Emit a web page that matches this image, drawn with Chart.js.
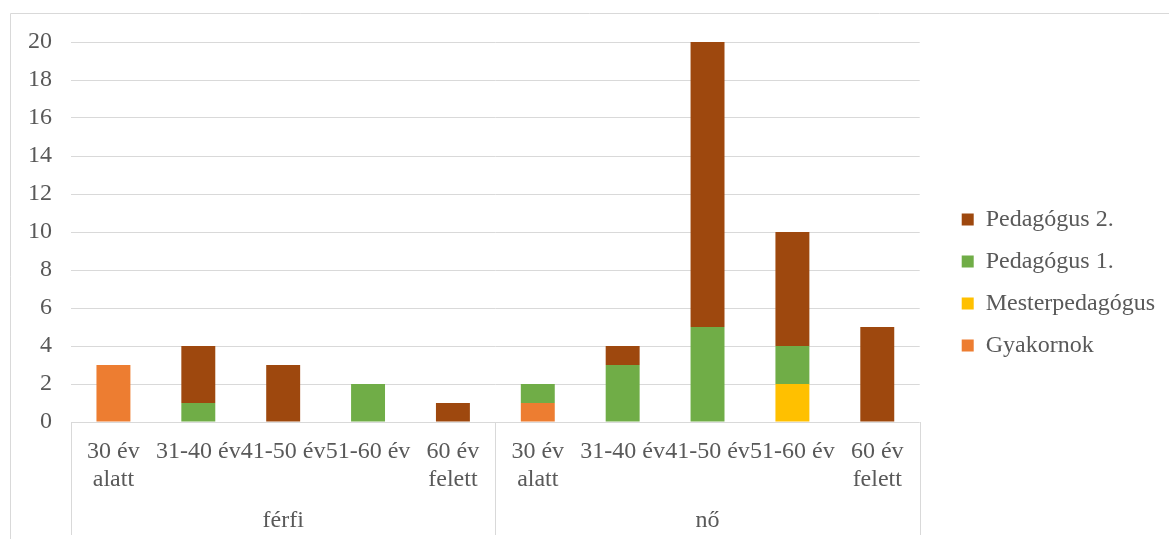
<!DOCTYPE html>
<html>
<head>
<meta charset="utf-8">
<script src="https://cdn.jsdelivr.net/npm/chart.js@4"></script>
<style>
    html, body { margin: 0; padding: 0; background: #fff; }
    #wrap { position: relative; width: 1169px; height: 539px; }
</style>
</head>
<body>
<div id="wrap"><canvas id="chart" width="1169" height="539"></canvas></div>
<script>
// --- Data ---
const ageLabels = [['30 év', 'alatt'], '31-40 év', '41-50 év', '51-60 év', ['60 év', 'felett'],
                   ['30 év', 'alatt'], '31-40 év', '41-50 év', '51-60 év', ['60 év', 'felett']];
const groupLabels = ['férfi', 'nő'];

const gyakornok = [3, 0, 0, 0, 0, 1, 0, 0, 0, 0];
const mesterpedagogus = [0, 0, 0, 0, 0, 0, 0, 0, 2, 0];
const pedagogus1 = [0, 1, 0, 2, 0, 1, 3, 5, 2, 0];
const pedagogus2 = [0, 3, 3, 0, 1, 0, 1, 15, 6, 5];

const yTicks = [0, 2, 4, 6, 8, 10, 12, 14, 16, 18, 20];

const GRID = '#d9d9d9';
const TEXT = '#595959';
const FONT = 'Liberation Serif';

Chart.defaults.font.family = FONT;
Chart.defaults.font.size = 24;
Chart.defaults.color = TEXT;

const font24 = { family: FONT, size: 24, lineHeight: 1.2 };

// outer frame + group separator lines below the axis
const framePlugin = {
    id: 'frame',
    afterLayout(chart) {
        // push the legend a bit away from the plot and up
        const lg = chart.legend;
        if (lg) {
            lg.left += 24; lg.right += 24;
            lg.top -= 8; lg.bottom -= 8;
        }
    },
    afterDraw(chart) {
        const ctx = chart.ctx;
        const x = chart.scales.x;
        const area = chart.chartArea;
        ctx.save();
        ctx.strokeStyle = GRID;
        ctx.lineWidth = 1;
        ctx.beginPath();
        ctx.moveTo(10.5, 600);
        ctx.lineTo(10.5, 13.5);
        ctx.lineTo(1169, 13.5);
        ctx.stroke();

        const mid = (x.getPixelForValue(4) + x.getPixelForValue(5)) / 2;
        [area.left, mid, area.right].forEach(px => {
            const p = Math.round(px) + 0.5;
            ctx.beginPath();
            ctx.moveTo(p, area.bottom);
            ctx.lineTo(p, 535);
            ctx.stroke();
        });
        ctx.restore();
    }
};

const makeSet = (label, data, color) => ({
    label: label,
    data: data,
    backgroundColor: color,
    borderWidth: 0,
    barPercentage: 0.4,
    categoryPercentage: 1.0
});

new Chart(document.getElementById('chart'), {
    type: 'bar',
    data: {
        labels: ageLabels,
        datasets: [
            makeSet('Gyakornok', gyakornok, '#ED7D31'),
            makeSet('Mesterpedagógus', mesterpedagogus, '#FFC000'),
            makeSet('Pedagógus 1.', pedagogus1, '#70AD47'),
            makeSet('Pedagógus 2.', pedagogus2, '#9E480E')
        ]
    },
    options: {
        responsive: false,
        animation: false,
        layout: { padding: { left: 20, right: 28, top: 42, bottom: 0 } },
        scales: {
            x: {
                stacked: true,
                grid: { display: false },
                border: { display: false },
                ticks: {
                    autoSkip: false, maxRotation: 0, minRotation: 0,
                    padding: 7, color: TEXT, font: font24
                },
                afterFit: (s) => { s.height = 72; }
            },
            x2: {
                type: 'category',
                position: 'bottom',
                labels: groupLabels,
                offset: true,
                grid: { display: false },
                border: { display: false },
                ticks: { padding: 4, color: TEXT, font: font24 },
                afterFit: (s) => { s.height = 45; }
            },
            y: {
                stacked: true,
                min: 0,
                max: 20,
                afterBuildTicks: (s) => { s.ticks = yTicks.map(v => ({ value: v })); },
                grid: { color: GRID, lineWidth: 1, drawTicks: false },
                border: { display: false },
                ticks: { padding: 19, color: TEXT, font: font24 },
                afterFit: (s) => { s.width = 51; }
            }
        },
        plugins: {
            legend: {
                position: 'right',
                reverse: true,
                labels: {
                    boxWidth: 12,
                    boxHeight: 12,
                    padding: 18,
                    color: TEXT,
                    font: font24
                }
            },
            tooltip: { enabled: false }
        }
    },
    plugins: [framePlugin]
});
</script>
</body>
</html>
